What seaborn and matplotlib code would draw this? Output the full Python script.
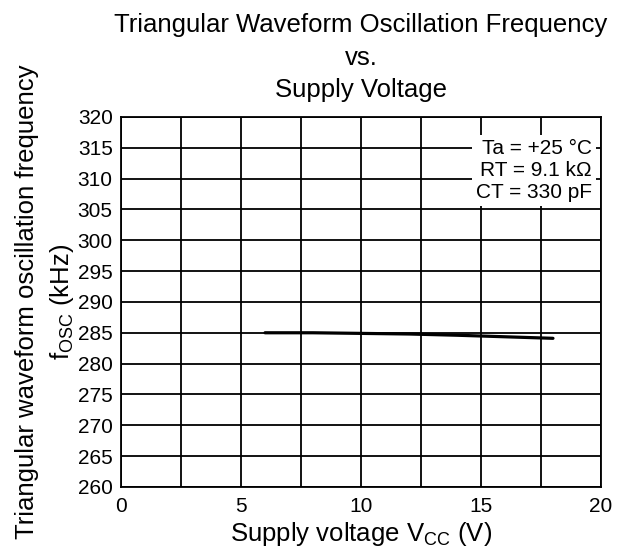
import matplotlib
matplotlib.use("Agg")
import numpy as np
import pandas as pd
import seaborn as sns
import matplotlib.pyplot as plt

supply_voltage = [6, 8, 10, 12, 14, 16, 18]
frequency_khz = [285.0, 285.0, 284.9, 284.8, 284.6, 284.35, 284.1]
x_ticks = [0, 5, 10, 15, 20]
y_ticks = list(range(260, 325, 5))
conditions = ["Ta = +25 °C", "RT = 9.1 kΩ", "CT = 330 pF"]

sns.set_style("white")
plt.rcParams["font.family"] = ["Liberation Sans", "DejaVu Sans"]
plt.rcParams["mathtext.fontset"] = "custom"
plt.rcParams["mathtext.rm"] = "Liberation Sans"
for k in ["text.color", "axes.labelcolor", "xtick.color", "ytick.color"]:
    plt.rcParams[k] = "black"

df = pd.DataFrame({"Vcc": supply_voltage, "fosc": frequency_khz})

fig, ax = plt.subplots(figsize=(6.27, 5.54), dpi=100)
fig.subplots_adjust(left=0.193, right=0.9585, top=0.789, bottom=0.121)

sns.lineplot(data=df, x="Vcc", y="fosc", color="black", linewidth=2.3, ax=ax)

ax.set_xlim(0, 20)
ax.set_ylim(260, 320)
ax.set_xticks(x_ticks)
ax.set_xticks(np.arange(0, 20.1, 2.5), minor=True)
ax.set_yticks(y_ticks)
ax.grid(True, which="both", color="black", linewidth=1.3)
ax.tick_params(axis="x", which="both", length=0, labelsize=15, pad=7)
ax.tick_params(axis="y", length=5, width=1.2, direction="out", labelsize=15, pad=1)
for s in ax.spines.values():
    s.set_color("black")
    s.set_linewidth(1.3)

ax.set_xlabel(r"Supply voltage V$\mathregular{_{CC}}$ (V)", fontsize=18.5, labelpad=3)
ax.set_ylabel("Triangular waveform oscillation frequency\n" + r"f$\mathregular{_{OSC}}$ (kHz)",
              fontsize=18.5, labelpad=1, linespacing=1.45)
ax.set_title("Triangular Waveform Oscillation Frequency\nvs.\nSupply Voltage",
             fontsize=18.5, pad=14, linespacing=1.47)

ax.text(0.981, 0.940, "\n".join(conditions), transform=ax.transAxes,
        ha="right", va="top", fontsize=15, linespacing=1.2,
        bbox=dict(facecolor="white", edgecolor="none", pad=3))

fig.savefig("out.png", dpi=100)
